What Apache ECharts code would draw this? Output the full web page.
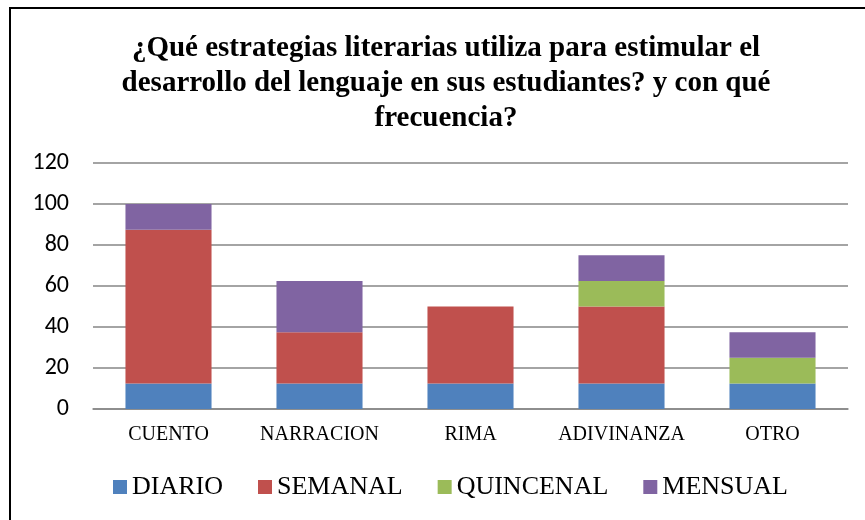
<!DOCTYPE html>
<html>
<head>
<meta charset="utf-8">
<script src="https://cdn.jsdelivr.net/npm/echarts@6/dist/echarts.min.js"></script>
<style>
  html, body { margin: 0; padding: 0; background: #fff; overflow: hidden; }
  #frame { position: absolute; left: 9px; top: 7px; width: 900px; height: 560px;
           border: 2px solid #000; box-sizing: border-box; }
  #chart { position: absolute; left: 0; top: 0; width: 865px; height: 520px; }
</style>
</head>
<body>
<div id="frame"></div>
<div id="chart"></div>
<script>
// categorias y valores (porcentajes)
const categories = ['CUENTO', 'NARRACION', 'RIMA', 'ADIVINANZA', 'OTRO'];
const diario = [12.5, 12.5, 12.5, 12.5, 12.5];
const semanal = [75, 25, 37.5, 37.5, 0];
const quincenal = [0, 0, 0, 12.5, 12.5];
const mensual = [12.5, 25, 0, 12.5, 12.5];

const serif = '"Liberation Serif", "Times New Roman", serif';
const sans = 'Carlito, "Liberation Sans", "Open Sans", sans-serif';

function bar(name, data, color) {
    return {
        name,
        type: 'bar',
        stack: 'total',
        barWidth: '57%',
        data,
        itemStyle: { color },
        emphasis: { disabled: true }
    };
}

const chart = echarts.init(document.getElementById('chart'));

chart.setOption({
    animation: false,
    title: {
        text: '¿Qué estrategias literarias utiliza para estimular el\ndesarrollo del lenguaje en sus estudiantes? y con qué\nfrecuencia?',
        left: 441,
        top: 26,
        textAlign: 'center',
        textStyle: {
            fontFamily: serif,
            fontWeight: 'bold',
            fontSize: 29,
            lineHeight: 35,
            color: '#000'
        }
    },
    legend: {
        top: 469,
        left: 108,
        itemWidth: 14,
        itemHeight: 14,
        itemGap: 35,
        icon: 'rect',
        textStyle: { fontFamily: serif, fontSize: 26, color: '#000' },
        data: ['DIARIO', 'SEMANAL', 'QUINCENAL', 'MENSUAL']
    },
    grid: { left: 93, right: 17, top: 163, bottom: 111, containLabel: false },
    xAxis: {
        type: 'category',
        data: categories,
        axisLine: { lineStyle: { color: '#868686', width: 1.5 } },
        axisTick: { show: false },
        axisLabel: { interval: 0, fontFamily: serif, fontSize: 20, color: '#000', margin: 16 }
    },
    yAxis: {
        type: 'value',
        min: 0,
        max: 120,
        interval: 20,
        axisLine: { show: false },
        axisTick: { show: false },
        axisLabel: { fontFamily: sans, fontSize: 24, color: '#000', margin: 24 },
        splitLine: { lineStyle: { color: '#868686', width: 1.5 } }
    },
    series: [
        bar('DIARIO', diario, '#4F81BD'),
        bar('SEMANAL', semanal, '#C0504D'),
        bar('QUINCENAL', quincenal, '#9BBB59'),
        bar('MENSUAL', mensual, '#8064A2')
    ]
});
</script>
</body>
</html>
